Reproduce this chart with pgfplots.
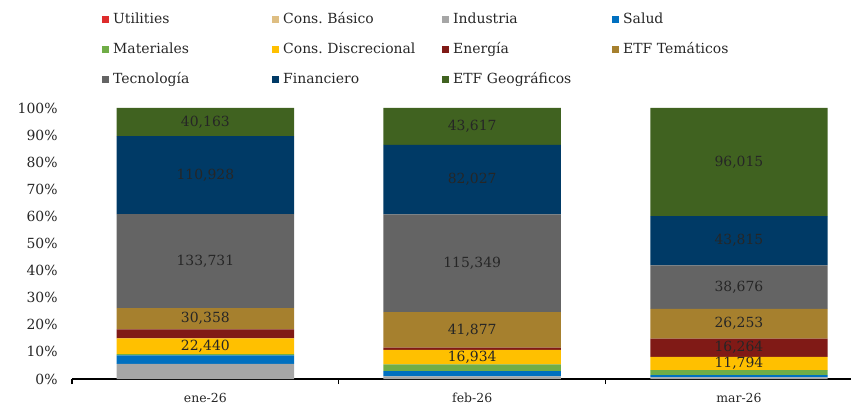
\documentclass[border=0pt]{standalone}
\usepackage{fontspec}
\setmainfont{DejaVu Serif}
\usepackage{pgfplots}
\usepackage{pgfplotstable}
\pgfplotsset{compat=1.18}

\definecolor{cUtil}{RGB}{222,44,44}
\definecolor{cBasico}{RGB}{222,190,130}
\definecolor{cInd}{RGB}{166,166,166}
\definecolor{cSalud}{RGB}{0,112,192}
\definecolor{cMat}{RGB}{112,173,71}
\definecolor{cDiscr}{RGB}{255,192,0}
\definecolor{cEner}{RGB}{128,26,22}
\definecolor{cTem}{RGB}{166,128,46}
\definecolor{cTec}{RGB}{100,100,100}
\definecolor{cFin}{RGB}{0,58,102}
\definecolor{cGeo}{RGB}{64,98,32}
\definecolor{txt}{RGB}{38,38,38}

% valores por sector (x: 0=ene-26, 1=feb-26, 2=mar-26)
\pgfplotstableread{
x Util Basico Ind Salud Mat Discr Ener Tem Tec Fin Geo
0 0 0 21500 12000 2000 22440 12800 30358 133731 110928 40163
1 0 0 3000 6300 8000 16934 2700 41877 115349 82027 43617
2 0 0 1400 2100 4400 11794 16264 26253 38676 43815 96015
}\data
\pgfplotstablecreatecol[create col/expr={\thisrow{Util}+\thisrow{Basico}+\thisrow{Ind}+\thisrow{Salud}+\thisrow{Mat}}]{cMat}\data
\pgfplotstablecreatecol[create col/expr={\thisrow{cMat}+\thisrow{Discr}}]{cDiscr}\data
\pgfplotstablecreatecol[create col/expr={\thisrow{cDiscr}+\thisrow{Ener}}]{cEner}\data
\pgfplotstablecreatecol[create col/expr={\thisrow{cEner}+\thisrow{Tem}}]{cTem}\data
\pgfplotstablecreatecol[create col/expr={\thisrow{cTem}+\thisrow{Tec}}]{cTec}\data
\pgfplotstablecreatecol[create col/expr={\thisrow{cTec}+\thisrow{Fin}}]{cFin}\data
\pgfplotstablecreatecol[create col/expr={\thisrow{cFin}+\thisrow{Geo}}]{Total}\data

\pgfplotsset{
  base/.style={scale only axis, width=779bp, height=271bp,
    xmin=-0.5, xmax=2.42, ymin=0, ymax=100,
    /pgf/number format/assume math mode=true},
}

\begin{document}
\frenchspacing
\begin{tikzpicture}
\begin{axis}[base,
    ybar stacked, bar width=0.665,
    axis x line*=bottom, axis y line*=left,
    y axis line style={draw=none},
    x axis line style={line width=1.2bp, black},
    xtick={0,1,2}, xticklabels={ene-26,feb-26,mar-26},
    major x tick style={draw=none},
    minor xtick={-0.5,0.5,1.5}, minor tick length=5bp,
    minor x tick style={line width=1.2bp, black},
    tick align=outside,
    ytick={0,10,...,100}, ytick style={draw=none},
    yticklabel={\pgfmathprintnumber{\tick}\%},
    yticklabel style={anchor=east, inner sep=0pt, xshift=-10bp, text=txt, font=\fontsize{14}{16}\selectfont},
    xticklabel style={anchor=center, inner sep=0pt, yshift=-15bp, text=txt, font=\fontsize{12.5}{14}\selectfont},
    legend columns=4,
    legend image code/.code={\fill[#1] (0bp,-3.5bp) rectangle (7bp,3.5bp);},
    legend style={draw=none, fill=none, at={(0.0385,1.351)}, anchor=north west,
      inner sep=0pt, font=\fontsize{14}{16}\selectfont, text=txt,
      /tikz/every even column/.append style={column sep=5bp},
      nodes={text width=150bp, align=left, inner xsep=4bp, inner ysep=0pt, text height=10bp, text depth=3bp},
      row sep=17bp},
  ]
\addplot[fill=cUtil, draw=none] table[x=x, y expr=\thisrow{Util}/\thisrow{Total}*100]{\data};
\addplot[fill=cBasico, draw=none] table[x=x, y expr=\thisrow{Basico}/\thisrow{Total}*100]{\data};
\addplot[fill=cInd, draw=none] table[x=x, y expr=\thisrow{Ind}/\thisrow{Total}*100]{\data};
\addplot[fill=cSalud, draw=none] table[x=x, y expr=\thisrow{Salud}/\thisrow{Total}*100]{\data};
\addplot[fill=cMat, draw=none] table[x=x, y expr=\thisrow{Mat}/\thisrow{Total}*100]{\data};
\addplot[fill=cDiscr, draw=none] table[x=x, y expr=\thisrow{Discr}/\thisrow{Total}*100]{\data};
\addplot[fill=cEner, draw=none] table[x=x, y expr=\thisrow{Ener}/\thisrow{Total}*100]{\data};
\addplot[fill=cTem, draw=none] table[x=x, y expr=\thisrow{Tem}/\thisrow{Total}*100]{\data};
\addplot[fill=cTec, draw=none] table[x=x, y expr=\thisrow{Tec}/\thisrow{Total}*100]{\data};
\addplot[fill=cFin, draw=none] table[x=x, y expr=\thisrow{Fin}/\thisrow{Total}*100]{\data};
\addplot[fill=cGeo, draw=none] table[x=x, y expr=\thisrow{Geo}/\thisrow{Total}*100]{\data};
\legend{Utilities,Cons. Básico,Industria,Salud,Materiales,Cons. Discrecional,Energía,ETF Temáticos,Tecnología,Financiero,ETF Geográficos}
\end{axis}
\begin{axis}[base, hide axis,
    nodes near coords, nodes near coords align=center, point meta=explicit,
    every node near coord/.append style={text=txt, inner sep=0pt, font=\fontsize{14}{16}\selectfont},
    /pgf/number format/fixed, /pgf/number format/precision=0,
    /pgf/number format/1000 sep={,},
  ]
\addplot[draw=none] table[x=x, y expr=(\thisrow{cMat}+0.5*\thisrow{Discr})/\thisrow{Total}*100, meta=Discr]{\data};
\addplot[draw=none, skip coords between index={0}{2}] table[x=x, y expr=(\thisrow{cDiscr}+0.5*\thisrow{Ener})/\thisrow{Total}*100, meta=Ener]{\data};
\addplot[draw=none] table[x=x, y expr=(\thisrow{cEner}+0.5*\thisrow{Tem})/\thisrow{Total}*100, meta=Tem]{\data};
\addplot[draw=none] table[x=x, y expr=(\thisrow{cTem}+0.5*\thisrow{Tec})/\thisrow{Total}*100, meta=Tec]{\data};
\addplot[draw=none] table[x=x, y expr=(\thisrow{cTec}+0.5*\thisrow{Fin})/\thisrow{Total}*100, meta=Fin]{\data};
\addplot[draw=none] table[x=x, y expr=(\thisrow{cFin}+0.5*\thisrow{Geo})/\thisrow{Total}*100, meta=Geo]{\data};
\end{axis}
\pgfresetboundingbox
\path[use as bounding box] (-72bp,-26bp) rectangle (779bp,379bp);
\end{tikzpicture}
\end{document}
